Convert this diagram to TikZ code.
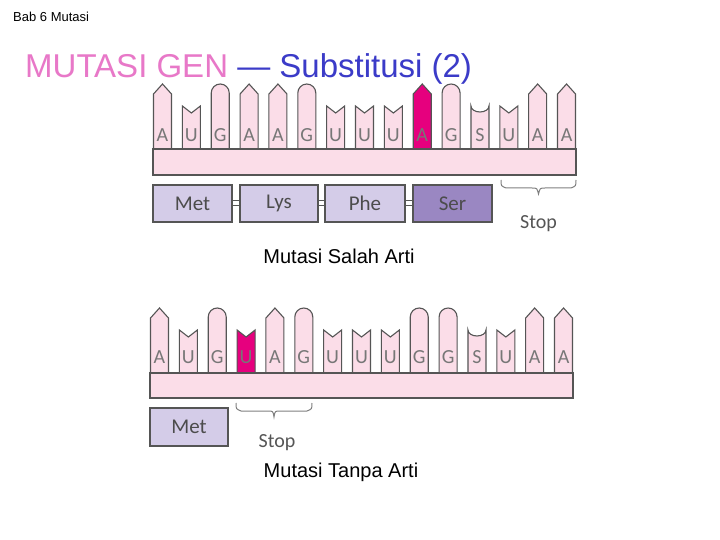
\documentclass[tikz,border=0pt]{standalone}
\usepackage{fontspec}
\setmainfont{Liberation Sans}
\newfontfamily\calfnt{Carlito}
\definecolor{bpink}{HTML}{FBDDE8}
\definecolor{hot}{HTML}{E6007E}
\definecolor{prot}{HTML}{D4CCE8}
\definecolor{ser}{HTML}{9A87C2}
\definecolor{edge}{HTML}{555555}
\definecolor{ttlpink}{HTML}{E878C8}
\definecolor{ttlblue}{HTML}{3B3BC8}
\tikzset{bse/.style={draw=edge,line width=1.1pt,fill=#1},
  lett/.style={font=\calfnt\fontsize{20}{20}\selectfont,text=edge!80,inner sep=0pt},
  protbox/.style={draw=edge,line width=1.1pt,fill=#1,minimum height=37pt,font=\calfnt\fontsize{21}{21}\selectfont,text=edge!90!black},
  bracestyle/.style={draw=gray,line width=1pt},
  captxt/.style={font=\fontsize{20}{20}\selectfont,inner sep=0pt}}
% #1 x, #2 tall top y, #3 bar y, #4 type, #5 letter, #6 fill, #7 letter y
\newcommand\mybase[7]{%
 \ifcase#4
  \draw[bse=#6] (#1-9,#3) -- (#1-9,#2+10) -- (#1,#2) -- (#1+9,#2+10) -- (#1+9,#3);\or
  \draw[bse=#6] (#1-9,#3) -- (#1-9,#2+9) arc(180:360:9) -- (#1+9,#3);\or
  \draw[bse=#6] (#1-9,#3) -- (#1-9,#2+22) -- (#1,#2+29) -- (#1+9,#2+22) -- (#1+9,#3);\or
  \draw[bse=#6] (#1-9,#3) -- (#1-9,#2+22) arc(180:0:9 and 6) -- (#1+9,#3);\fi
 \node[lett] at (#1,#7) {#5};}
\begin{document}
\begin{tikzpicture}[x=1pt,y=-1pt]
\useasboundingbox[fill=white] (0,0) rectangle (720,540);
\node[anchor=base west,inner sep=0pt,font=\fontsize{13}{13}\selectfont] (hdr) at (13,22) {Bab 6 Mutasi};
\node[anchor=base west,inner sep=0pt,font=\fontsize{33}{33}\selectfont] (ttl) at (25,78) {\textcolor{ttlpink}{MUTASI GEN} \textcolor{ttlblue}{— Substitusi (2)}};
% top strand
\foreach \t/\l/\c [count=\i from 0] in {0/A/bpink,2/U/bpink,1/G/bpink,0/A/bpink,0/A/bpink,1/G/bpink,2/U/bpink,2/U/bpink,2/U/bpink,0/A/hot,1/G/bpink,3/S/bpink,2/U/bpink,0/A/bpink,0/A/bpink}
  {\pgfmathsetmacro\xx{162.5+28.86*\i}\mybase{\xx}{84}{150}{\t}{\l}{\c}{135}}
\draw[bse=bpink] (153,149) rectangle (576,175);
\node[protbox=prot,minimum width=79pt] (met) at (192.5,203.5) {Met};
\node[protbox=prot,minimum width=78pt] (lys) at (279,203.5) {Lys};
\node[protbox=prot,minimum width=80pt] (phe) at (365,203.5) {Phe};
\node[protbox=ser,minimum width=79pt] (sr) at (452.5,203.5) {Ser};
\foreach \a/\b in {met/lys,lys/phe,phe/sr}{
  \draw[edge,line width=1pt] ([yshift=-2.5pt]\a.east) -- ([yshift=-2.5pt]\b.west);
  \draw[edge,line width=1pt] ([yshift=2.5pt]\a.east) -- ([yshift=2.5pt]\b.west);}
\draw[bracestyle] (501,180) .. controls (501,186) .. (506,188) -- (532,188) .. controls (537,188) .. (538.5,194) .. controls (540,188) .. (545,188) -- (571,188) .. controls (576,186) .. (576,180);
\node[font=\calfnt\fontsize{20}{20}\selectfont,text=edge,inner sep=0pt] (stop1) at (538.5,224) {Stop};
\node[captxt] (c1) at (339,256) {Mutasi Salah Arti};
% bottom strand
\foreach \t/\l/\c [count=\i from 0] in {0/A/bpink,2/U/bpink,1/G/bpink,2/U/hot,0/A/bpink,1/G/bpink,2/U/bpink,2/U/bpink,2/U/bpink,1/G/bpink,1/G/bpink,3/S/bpink,2/U/bpink,0/A/bpink,0/A/bpink}
  {\pgfmathsetmacro\xx{159.5+28.86*\i}\mybase{\xx}{308}{374}{\t}{\l}{\c}{357}}
\draw[bse=bpink] (150,373) rectangle (573,398);
\node[protbox=prot,minimum width=78pt,minimum height=38pt] (met2) at (189,427) {Met};
\draw[bracestyle] (236,403) .. controls (236,409) .. (241,411) -- (268,411) .. controls (273,411) .. (274,417) .. controls (275,411) .. (280,411) -- (307,411) .. controls (312,409) .. (312,403);
\node[font=\calfnt\fontsize{20}{20}\selectfont,text=edge,inner sep=0pt] (stop2) at (277,443) {Stop};
\node[captxt] (c2) at (341,472) {Mutasi Tanpa Arti};
\end{tikzpicture}
\end{document}
